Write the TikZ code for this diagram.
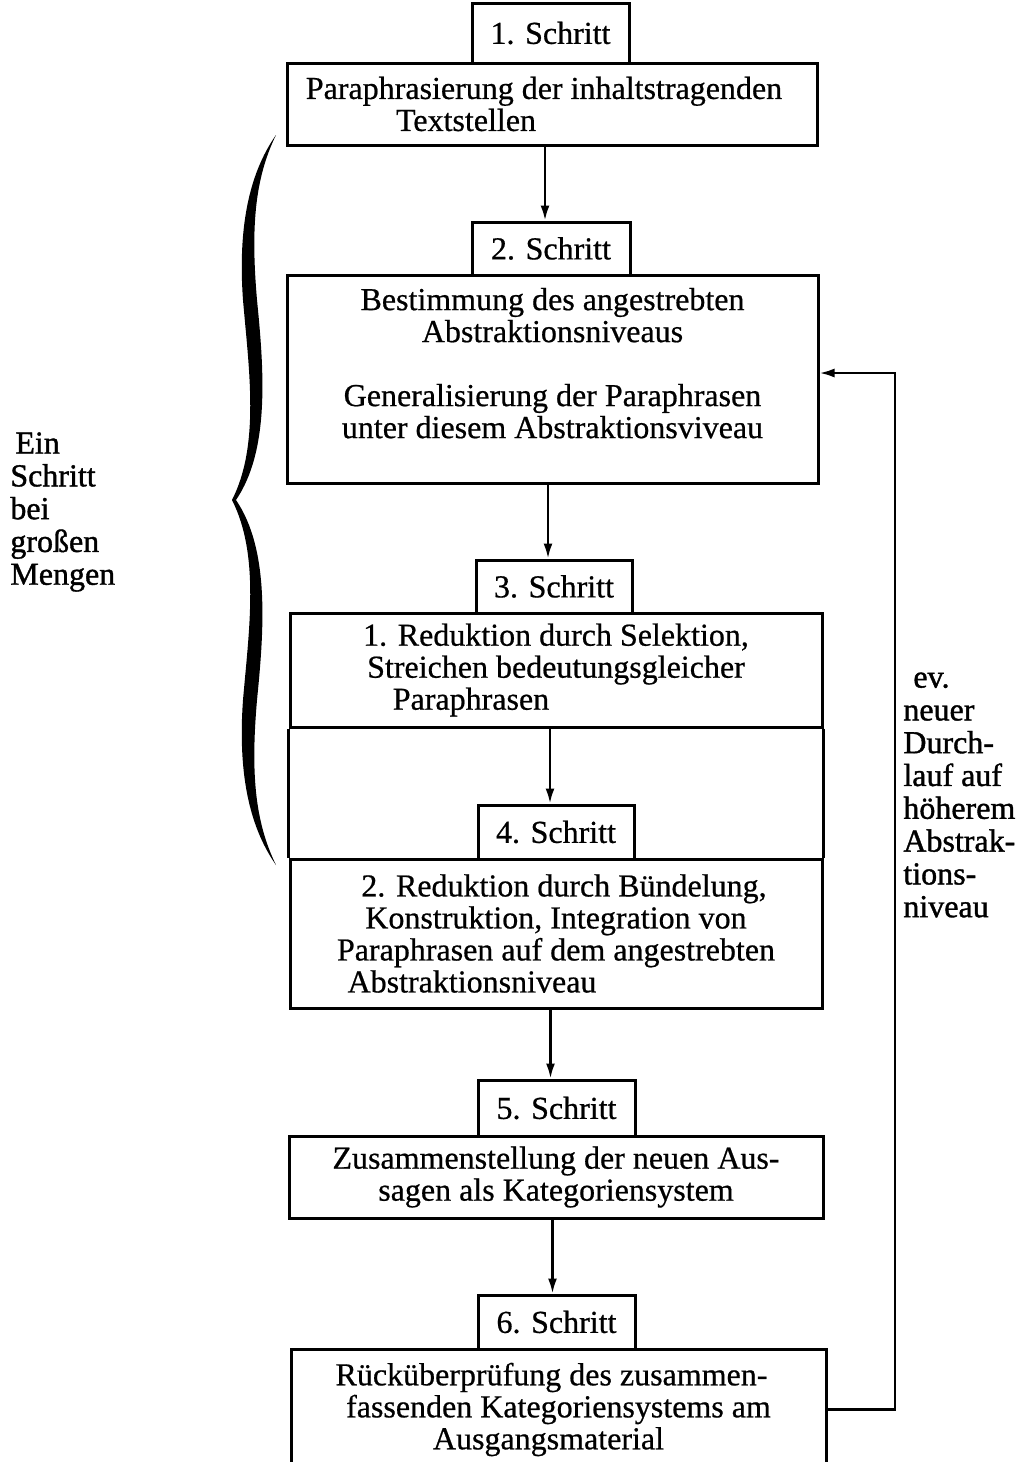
\documentclass[tikz,border=0pt]{standalone}
\usepackage{fontspec}
\setmainfont{Liberation Serif}[FakeBold=0.6]
\newfontfamily\sidefam{Liberation Serif}[FakeBold=1.2]
\usetikzlibrary{arrows.meta}
\newcommand\txtfont{\fontsize{16pt}{16pt}\selectfont}
\newcommand\sidefont{\sidefam\fontsize{16pt}{16.4pt}\selectfont}
\tikzset{
  hd/.style={draw, line width=1.5pt, inner sep=0pt, font=\txtfont},
  bx/.style={draw, line width=1.5pt, inner sep=0pt, align=center, font=\txtfont},
  arr/.style={line width=1.2pt, -{Latex[length=7.5pt,width=4.5pt]}},
  side/.style={align=left, inner sep=0pt, font=\sidefont, anchor=west},
}
\begin{document}
\begin{tikzpicture}[x=0.5pt,y=-0.5pt]
\fill[white] (0,0) rectangle (1033,1462);
\useasboundingbox (0,0) rectangle (1033,1462);

% step 1
\node[hd, minimum width=78.5pt, minimum height=30pt] (h1) at (550.5,33) {1. Schritt};
\node[bx, minimum width=265pt, minimum height=41pt] (b1) at (552,104)
  {Paraphrasierung der inhaltstragenden\hspace*{8pt}\\Textstellen\hspace*{86pt}};

% step 2
\node[hd, minimum width=79pt, minimum height=26.5pt] (h2) at (551,248.5) {2. Schritt};
\node[bx, minimum width=265.5pt, minimum height=104pt] (b2) at (552.5,379)
  {Bestimmung des angestrebten\\Abstraktionsniveaus\\[16pt]Generalisierung der Paraphrasen\\unter diesem Abstraktionsviveau\\\mbox{}};

% step 3
\node[hd, minimum width=78pt, minimum height=26.5pt] (h3) at (554,586.5) {3. Schritt};
\node[bx, minimum width=266pt, minimum height=57pt] (b3) at (556,670)
  {1. Reduktion durch Selektion,\\Streichen bedeutungsgleicher\\Paraphrasen\hspace*{85pt}};

% step 4
\node[hd, minimum width=78pt, minimum height=27pt] (h4) at (556,832) {4. Schritt};
\node[bx, minimum width=266pt, minimum height=74.5pt] (b4) at (556,933.5)
  {\hspace*{8pt}2. Reduktion durch Bündelung,\\Konstruktion, Integration von\hspace*{14pt}\\Paraphrasen auf dem angestrebten\\Abstraktionsniveau\hspace*{84pt}};
\draw[line width=1.5pt] (b3.south west) -- (b4.north west);
\draw[line width=1.5pt] (b3.south east) -- (b4.north east);

% step 5
\node[hd, minimum width=78.5pt, minimum height=28pt] (h5) at (556.5,1108) {5. Schritt};
\node[bx, minimum width=267pt, minimum height=41pt] (b5) at (556,1177)
  {Zusammenstellung der neuen Aus-\\sagen als Kategoriensystem};

% step 6
\node[hd, minimum width=78.5pt, minimum height=27pt] (h6) at (556.5,1322) {6. Schritt};
\node[bx, minimum width=267.5pt, minimum height=60.5pt] (b6) at (558.5,1409.5)
  {Rücküberprüfung des zusammen-\hspace*{7pt}\\fassenden Kategoriensystems am\hspace*{18pt}\\Ausgangsmaterial\hspace*{10pt}};

% arrows
\draw[arr] ([xshift=-3pt]h2.north |- b1.south) -- ([xshift=-3pt]h2.north);
\draw[arr] ([xshift=-3pt]h3.north |- b2.south) -- ([xshift=-3pt]h3.north);
\draw[arr] ([xshift=-3pt]h4.north |- b3.south) -- ([xshift=-3pt]h4.north);
\draw[arr] ([xshift=-3pt]h5.north |- b4.south) -- ([xshift=-3pt]h5.north);
\draw[arr] ([xshift=-2pt]h6.north |- b5.south) -- ([xshift=-2pt]h6.north);

% feedback loop
\coordinate (c1) at (895,1409.5);
\coordinate (c2) at (895,373);
\draw[arr] (b6.east) -- (c1) -- (c2) -- (c2 -| b2.east);

% brace
\fill[black] (276,135) .. controls (248,175) and (238,230) .. (243,300)
  .. controls (249,370) and (260,445) .. (232,500)
  .. controls (260,555) and (249,630) .. (243,700)
  .. controls (238,770) and (248,825) .. (276,865)
  .. controls (254,820) and (251,770) .. (257,700)
  .. controls (264,630) and (270,550) .. (236,500)
  .. controls (270,450) and (264,370) .. (257,300)
  .. controls (251,230) and (254,180) .. (276,135) -- cycle;

% side texts
\node[side] (lt) at (10,512) {\hspace*{2.5pt}Ein\\Schritt\\bei\\großen\\Mengen};
\node[side] (rt) at (903,795) {\hspace*{5pt}ev.\\neuer\\Durch-\\lauf auf\\höherem\\Abstrak-\\tions-\\niveau};
\end{tikzpicture}
\end{document}
